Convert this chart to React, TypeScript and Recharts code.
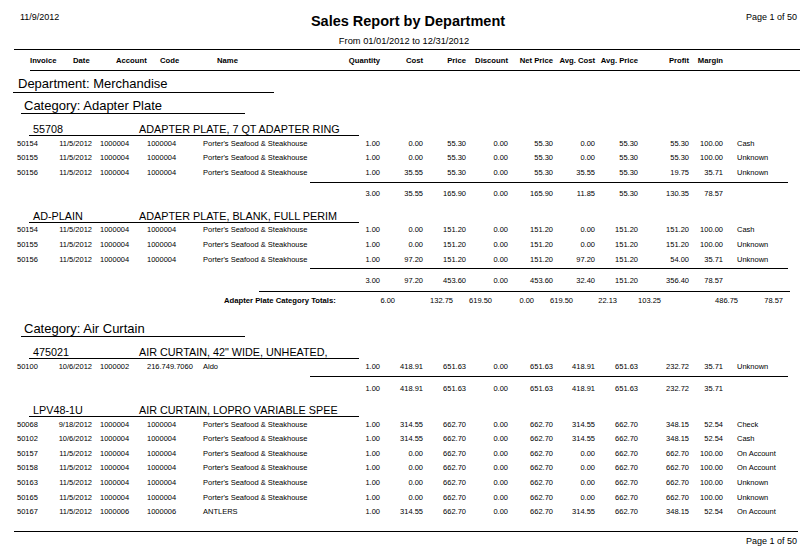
import React from 'react';
import { ScatterChart, Scatter, XAxis, YAxis } from 'recharts';

// invoice, date, account, code, name, qty, cost, price, discount, net, avgCost, avgPrice, profit, margin, payment
type Sale = [string, string, string, string, string, number, number, number, number, number, number, number, number, number, string];

const reportDate = '11/9/2012';
const reportTitle = 'Sales Report by Department';
const reportRange = 'From 01/01/2012 to 12/31/2012';
const pageLabel = 'Page 1 of 50';

const textColumns = ['Invoice', 'Date', 'Account', 'Code', 'Name'];
const numberColumns = ['Quantity', 'Cost', 'Price', 'Discount', 'Net Price', 'Avg. Cost', 'Avg. Price', 'Profit', 'Margin'];

const department = 'Merchandise';
const categories = ['Adapter Plate', 'Air Curtain'];

const porters = "Porter's Seafood & Steakhouse";

const sales55708: Sale[] = [
  ['50154', '11/5/2012', '1000004', '1000004', porters, 1, 0, 55.3, 0, 55.3, 0, 55.3, 55.3, 100, 'Cash'],
  ['50155', '11/5/2012', '1000004', '1000004', porters, 1, 0, 55.3, 0, 55.3, 0, 55.3, 55.3, 100, 'Unknown'],
  ['50156', '11/5/2012', '1000004', '1000004', porters, 1, 35.55, 55.3, 0, 55.3, 35.55, 55.3, 19.75, 35.71, 'Unknown'],
];
const total55708 = [3, 35.55, 165.9, 0, 165.9, 11.85, 55.3, 130.35, 78.57];

const salesAdPlain: Sale[] = [
  ['50154', '11/5/2012', '1000004', '1000004', porters, 1, 0, 151.2, 0, 151.2, 0, 151.2, 151.2, 100, 'Cash'],
  ['50155', '11/5/2012', '1000004', '1000004', porters, 1, 0, 151.2, 0, 151.2, 0, 151.2, 151.2, 100, 'Unknown'],
  ['50156', '11/5/2012', '1000004', '1000004', porters, 1, 97.2, 151.2, 0, 151.2, 97.2, 151.2, 54, 35.71, 'Unknown'],
];
const totalAdPlain = [3, 97.2, 453.6, 0, 453.6, 32.4, 151.2, 356.4, 78.57];

const adapterPlateTotals = [6, 132.75, 619.5, 0, 619.5, 22.13, 103.25, 486.75, 78.57];

const sales475021: Sale[] = [
  ['50100', '10/6/2012', '1000002', '216.749.7060', 'Aldo', 1, 418.91, 651.63, 0, 651.63, 418.91, 651.63, 232.72, 35.71, 'Unknown'],
];
const total475021 = [1, 418.91, 651.63, 0, 651.63, 418.91, 651.63, 232.72, 35.71];

const salesLpv48: Sale[] = [
  ['50068', '9/18/2012', '1000004', '1000004', porters, 1, 314.55, 662.7, 0, 662.7, 314.55, 662.7, 348.15, 52.54, 'Check'],
  ['50102', '10/6/2012', '1000004', '1000004', porters, 1, 314.55, 662.7, 0, 662.7, 314.55, 662.7, 348.15, 52.54, 'Cash'],
  ['50157', '11/5/2012', '1000004', '1000004', porters, 1, 0, 662.7, 0, 662.7, 0, 662.7, 662.7, 100, 'On Account'],
  ['50158', '11/5/2012', '1000004', '1000004', porters, 1, 0, 662.7, 0, 662.7, 0, 662.7, 662.7, 100, 'On Account'],
  ['50163', '11/5/2012', '1000004', '1000004', porters, 1, 0, 662.7, 0, 662.7, 0, 662.7, 662.7, 100, 'Unknown'],
  ['50165', '11/5/2012', '1000004', '1000004', porters, 1, 0, 662.7, 0, 662.7, 0, 662.7, 662.7, 100, 'Unknown'],
  ['50167', '11/5/2012', '1000006', '1000006', 'ANTLERS', 1, 314.55, 662.7, 0, 662.7, 314.55, 662.7, 348.15, 52.54, 'On Account'],
];

const FONT = 'Liberation Sans, Arial, sans-serif';
const INK = '#000';

// column anchors
const textX = [17, 92, 100, 147, 203];
const textAnchor = ['start', 'end', 'start', 'start', 'start'];
const headerX = [30, 73, 116, 160, 217];
const numX = [380, 423, 466, 508, 553, 595, 638, 689, 723];
const payX = 737;
const catTotalX = [395, 453, 492, 534, 573, 617, 661, 738, 783];

type Kind = 'dept' | 'cat' | 'item' | 'sale' | 'sub' | 'catTotal';
type Line = { kind: Kind; x: number; y: number; label?: string; desc?: string; sale?: Sale; values?: number[] };

const advance = (kind: Kind, prev: Kind | null) => {
  if (prev === null) return 83;
  if (kind === 'cat') return prev === 'catTotal' ? 28 : 22;
  if (kind === 'item') return prev === 'cat' ? 24 : 22;
  if (kind === 'sale') return prev === 'item' ? 14 : 14.6;
  if (kind === 'sub') return 21.5;
  return 20;
};

const buildLines = (): Line[] => {
  const seq: Omit<Line, 'x' | 'y'>[] = [];
  seq.push({ kind: 'dept', label: `Department: ${department}` });
  seq.push({ kind: 'cat', label: `Category: ${categories[0]}` });
  seq.push({ kind: 'item', label: '55708', desc: 'ADAPTER PLATE, 7 QT ADAPTER RING' });
  sales55708.forEach((s) => seq.push({ kind: 'sale', sale: s }));
  seq.push({ kind: 'sub', values: total55708 });
  seq.push({ kind: 'item', label: 'AD-PLAIN', desc: 'ADAPTER PLATE, BLANK, FULL PERIM' });
  salesAdPlain.forEach((s) => seq.push({ kind: 'sale', sale: s }));
  seq.push({ kind: 'sub', values: totalAdPlain });
  seq.push({ kind: 'catTotal', label: `${categories[0]} Category Totals:`, values: adapterPlateTotals });
  seq.push({ kind: 'cat', label: `Category: ${categories[1]}` });
  seq.push({ kind: 'item', label: '475021', desc: 'AIR CURTAIN, 42" WIDE, UNHEATED,' });
  sales475021.forEach((s) => seq.push({ kind: 'sale', sale: s }));
  seq.push({ kind: 'sub', values: total475021 });
  seq.push({ kind: 'item', label: 'LPV48-1U', desc: 'AIR CURTAIN, LOPRO VARIABLE SPEE' });
  salesLpv48.forEach((s) => seq.push({ kind: 'sale', sale: s }));

  let y = 0;
  let prev: Kind | null = null;
  return seq.map((l) => {
    y += advance(l.kind, prev);
    prev = l.kind;
    return { ...l, x: 0, y };
  });
};

const lines = buildLines();
const pageData = [{ x: 0, y: 0 }];

const fmt = (v: number) => v.toFixed(2);

const T = (props: any) => (
  <text fontFamily={FONT} fill={INK} {...props} />
);

const hr = (x1: number, x2: number, y: number, key?: string) => (
  <line key={key} x1={x1} x2={x2} y1={Math.round(y) + 0.5} y2={Math.round(y) + 0.5} stroke={INK} strokeWidth={1} />
);

const ReportLine = (props: any) => {
  const { cx, cy, payload } = props;
  const l: Line = payload;
  const y = cy;
  if (l.kind === 'dept') {
    return (
      <g>
        <T x={cx + 18} y={y + 4.6} fontSize={13}>{l.label}</T>
        {hr(cx + 13, cx + 274, y + 9)}
      </g>
    );
  }
  if (l.kind === 'cat') {
    return (
      <g>
        <T x={cx + 24} y={y + 4.6} fontSize={13}>{l.label}</T>
        {hr(cx + 21, cx + 245, y + 8)}
      </g>
    );
  }
  if (l.kind === 'item') {
    return (
      <g>
        <T x={cx + 33} y={y + 3.9} fontSize={10.8}>{l.label}</T>
        <T x={cx + 139} y={y + 3.9} fontSize={10.8}>{l.desc}</T>
        {hr(cx + 29, cx + 359, y + 6)}
      </g>
    );
  }
  if (l.kind === 'sale' && l.sale) {
    const s = l.sale;
    return (
      <g fontSize={7.5}>
        {textX.map((tx, i) => (
          <T key={i} x={cx + tx} y={y + 2.7} textAnchor={textAnchor[i]}>{s[i] as string}</T>
        ))}
        {numX.map((nx, i) => (
          <T key={`n${i}`} x={cx + nx} y={y + 2.7} textAnchor="end">{fmt(s[5 + i] as number)}</T>
        ))}
        <T x={cx + payX} y={y + 2.7}>{s[14]}</T>
      </g>
    );
  }
  if (l.kind === 'sub' && l.values) {
    return (
      <g fontSize={7.5}>
        {hr(cx + 310, cx + 788, y - 12)}
        {l.values.map((v, i) => (
          <T key={i} x={cx + numX[i]} y={y + 2.7} textAnchor="end">{fmt(v)}</T>
        ))}
      </g>
    );
  }
  if (l.kind === 'catTotal' && l.values) {
    return (
      <g fontSize={7.5}>
        {hr(cx + 259, cx + 790, y - 9)}
        <T x={cx + 224} y={y + 2.7} fontWeight="bold" fontSize={7.7}>{l.label}</T>
        {l.values.map((v, i) => (
          <T key={i} x={cx + catTotalX[i]} y={y + 2.7} textAnchor="end">{fmt(v)}</T>
        ))}
      </g>
    );
  }
  return <g />;
};

const PageFrame = (props: any) => {
  const { cx, cy } = props;
  return (
    <g>
      <T x={cx + 20} y={cy + 20} fontSize={9}>{reportDate}</T>
      <T x={cx + 408} y={cy + 26} fontSize={14.5} fontWeight="bold" textAnchor="middle">{reportTitle}</T>
      <T x={cx + 797} y={cy + 20} fontSize={9} textAnchor="end">{pageLabel}</T>
      <T x={cx + 404} y={cy + 43.5} fontSize={9.3} textAnchor="middle">{reportRange}</T>
      {hr(cx + 14, cx + 800, cy + 49)}
      <g fontSize={7.7} fontWeight="bold">
        {textColumns.map((c, i) => (
          <T key={c} x={cx + headerX[i]} y={cy + 63}>{c}</T>
        ))}
        {numberColumns.map((c, i) => (
          <T key={c} x={cx + numX[i]} y={cy + 63} textAnchor="end">{c}</T>
        ))}
      </g>
      {hr(cx + 30, cx + 800, cy + 70)}
      {hr(cx + 14, cx + 798, cy + 531)}
      <T x={cx + 797} y={cy + 544} fontSize={9} textAnchor="end">{pageLabel}</T>
    </g>
  );
};

const App = () => {
  return (
    <div style={{ position: 'absolute', left: 0, top: 0, width: 810, height: 560, background: '#fff' }}>
      <ScatterChart width={810} height={560} margin={{ top: 0, right: 0, bottom: 0, left: 0 }}>
        <XAxis type="number" dataKey="x" domain={[0, 810]} hide />
        <YAxis type="number" dataKey="y" domain={[0, 560]} reversed hide />
        <Scatter data={pageData} shape={(p: any) => <PageFrame {...p} />} isAnimationActive={false} />
        <Scatter data={lines} shape={(p: any) => <ReportLine {...p} />} isAnimationActive={false} />
      </ScatterChart>
    </div>
  );
};

export default App;
